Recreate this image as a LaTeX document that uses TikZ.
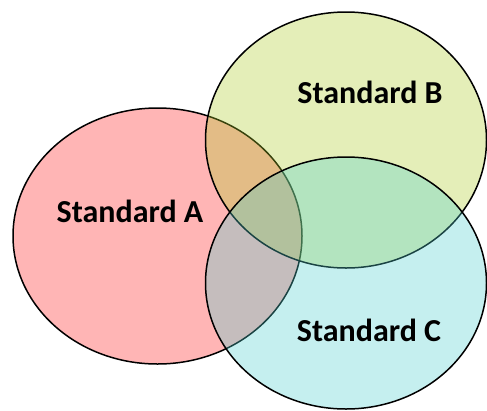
\documentclass[tikz,border=0pt]{standalone}
\usepackage{fontspec}
\setmainfont{Carlito}
\definecolor{colA}{RGB}{255,181,181}
\definecolor{colB}{RGB}{172,204,40}
\definecolor{colC}{RGB}{80,206,206}
\begin{document}
\begin{tikzpicture}[x=1pt,y=-1pt,
  setbox/.style={draw=black,line width=1.5pt},
  lbl/.style={font=\fontsize{32}{38}\selectfont\bfseries,text=black}]
\useasboundingbox (0,0) rectangle (487,410);
\path[setbox,fill=colA] (157.5,236) ellipse [x radius=144.5,y radius=128];
\path[setbox,fill=colB,fill opacity=0.33] (346,140) ellipse [x radius=140.5,y radius=128];
\path[setbox,fill=colC,fill opacity=0.33] (346,283) ellipse [x radius=140.5,y radius=126];
\node[lbl] (a) at (130,211) {Standard A};
\node[lbl] (b) at (370,92) {Standard B};
\node[lbl] (c) at (369,330) {Standard C};
\end{tikzpicture}
\end{document}
